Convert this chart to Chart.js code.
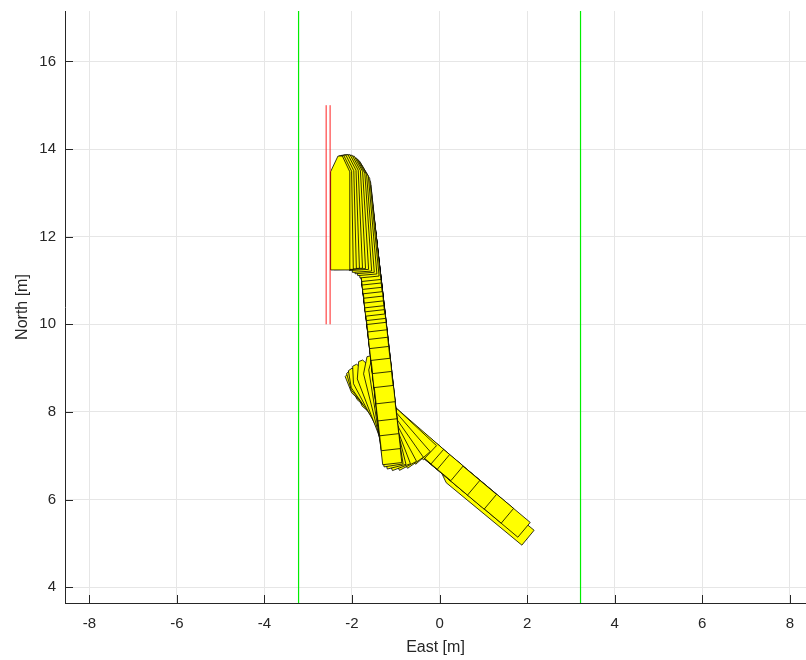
<!DOCTYPE html>
<html>
<head>
<meta charset="utf-8">
<script src="https://cdn.jsdelivr.net/npm/chart.js@4.4.1/dist/chart.umd.min.js"></script>
<style>
    html, body { margin: 0; padding: 0; background: #fff; }
</style>
</head>
<body>
<canvas id="pathChart" width="806" height="660"></canvas>
<script>
// axis ticks
const xTicks = [-8, -6, -4, -2, 0, 2, 4, 6, 8];
const yTicks = [4, 6, 8, 10, 12, 14, 16];

// lane borders (green) and parking slot marks (red)
const laneX = [-3.22, 3.22];
const slotX = [-2.59, -2.50];
const slotY = [10, 15];

// vehicle poses: rear centre east / north [m], heading [deg]
const poseEast = [
    2.02, 1.93,
    1.55, 1.16, 0.78, 0.40, 0.09, -0.05, -0.22,
    -0.38, -0.55, -0.72, -0.87, -0.98, -1.05,
    -1.08, -1.11, -1.15, -1.19, -1.23, -1.28, -1.31, -1.35, -1.38, -1.40, -1.42,
    -1.44, -1.45, -1.47, -1.48, -1.49, -1.50, -1.51, -1.53, -1.54, -1.55, -1.56,
    -1.60, -1.65, -1.71, -1.77, -1.84, -1.91, -1.98, -2.05, -2.12, -2.19, -2.27
];
const poseNorth = [
    5.13, 5.31,
    5.63, 5.95, 6.27, 6.60, 6.86, 6.98, 7.07,
    6.95, 6.84, 6.77, 6.74, 6.75, 6.78,
    6.82, 7.14, 7.48, 7.82, 8.21, 8.58, 8.90, 9.20, 9.47, 9.68, 9.85,
    10.02, 10.11, 10.21, 10.31, 10.40, 10.51, 10.62, 10.72, 10.82, 10.92, 11.00,
    11.08, 11.13, 11.17, 11.20, 11.24, 11.26, 11.27, 11.27, 11.26, 11.25, 11.24
];
const poseHeading = [
    140.5, 140,
    140, 140, 140, 140, 140, 139, 137,
    131, 125, 118, 111, 104, 99,
    96.5, 96.5, 96.5, 96.5, 96.5, 96.5, 96.5, 96.5, 96.5, 96.5, 96.5,
    96.5, 96.5, 96.5, 96.5, 96.5, 96.5, 96.5, 96.3, 96.2, 96.1, 96,
    95.5, 95, 94.5, 94, 93.5, 93, 92.5, 92, 91.5, 91, 90
];

// vehicle outline in body frame: u forward from rear, v to the left [m]
const LEN = 2.6;
const HALF_W = 0.22;
const NOSE = 0.36;
const outlineU = [0, LEN - NOSE, LEN, LEN, LEN - NOSE, 0, 0];
const outlineV = [-HALF_W, -HALF_W, -0.05, 0.05, HALF_W, HALF_W, -HALF_W];

const X_MIN = -8.555, X_MAX = 8.37;
const Y_MIN = 3.64, Y_MAX = 17.15;

const ink = '#262626';
const fontFamily = "'Liberation Sans', Arial, sans-serif";

function vehicleOutline(east, north, headingDeg) {
    const a = headingDeg * Math.PI / 180;
    const c = Math.cos(a);
    const s = Math.sin(a);
    return outlineU.map((u, k) => {
        const v = outlineV[k];
        return { x: east + u * c - v * s, y: north + u * s + v * c };
    });
}

const datasets = [];

laneX.forEach(x => {
    datasets.push({
        data: [{ x: x, y: Y_MIN }, { x: x, y: Y_MAX }],
        borderColor: '#00ee00',
        borderWidth: 1.2,
        pointRadius: 0,
        fill: false,
        order: 0
    });
});

slotX.forEach(x => {
    datasets.push({
        data: [{ x: x, y: slotY[0] }, { x: x, y: slotY[1] }],
        borderColor: '#ff2020',
        borderWidth: 1,
        pointRadius: 0,
        fill: false,
        order: 0
    });
});

// later poses are drawn on top of earlier ones
poseEast.forEach((e, i) => {
    datasets.push({
        data: vehicleOutline(e, poseNorth[i], poseHeading[i]),
        borderColor: '#000000',
        borderWidth: 0.8,
        backgroundColor: '#ffff00',
        fill: 'shape',
        pointRadius: 0,
        tension: 0,
        order: poseEast.length - i
    });
});

// MATLAB style ticks pointing into the plot
const innerTicks = {
    id: 'innerTicks',
    afterDraw(chart) {
        const { ctx, chartArea, scales } = chart;
        ctx.save();
        ctx.strokeStyle = ink;
        ctx.lineWidth = 1;
        ctx.beginPath();
        scales.x.ticks.forEach(t => {
            const px = Math.round(scales.x.getPixelForValue(t.value)) + 0.5;
            ctx.moveTo(px, chartArea.bottom);
            ctx.lineTo(px, chartArea.bottom - 8);
        });
        scales.y.ticks.forEach(t => {
            const py = Math.round(scales.y.getPixelForValue(t.value)) + 0.5;
            ctx.moveTo(chartArea.left, py);
            ctx.lineTo(chartArea.left + 8, py);
        });
        ctx.stroke();
        ctx.restore();
    }
};

new Chart(document.getElementById('pathChart'), {
    type: 'line',
    data: { datasets: datasets },
    options: {
        responsive: false,
        animation: false,
        layout: { padding: { top: 11, right: 0, left: 0, bottom: 0 } },
        plugins: {
            legend: { display: false },
            tooltip: { enabled: false }
        },
        scales: {
            x: {
                type: 'linear',
                min: X_MIN,
                max: X_MAX,
                afterBuildTicks: axis => { axis.ticks = xTicks.map(v => ({ value: v })); },
                afterFit: axis => {
                    axis.height = 57;
                    axis.paddingLeft = 0;
                    axis.paddingRight = 0;
                },
                grid: { color: '#e6e6e6', drawTicks: false },
                border: { display: true, color: ink, width: 1 },
                ticks: {
                    color: ink,
                    padding: 12,
                    maxRotation: 0,
                    font: { family: fontFamily, size: 15 }
                },
                title: {
                    display: true,
                    text: 'East [m]',
                    color: ink,
                    font: { family: fontFamily, size: 16 },
                    padding: { top: 0, bottom: 3 }
                }
            },
            y: {
                type: 'linear',
                min: Y_MIN,
                max: Y_MAX,
                afterBuildTicks: axis => { axis.ticks = yTicks.map(v => ({ value: v })); },
                afterFit: axis => {
                    axis.width = 65;
                    axis.paddingTop = 0;
                    axis.paddingBottom = 0;
                },
                grid: { color: '#e6e6e6', drawTicks: false },
                border: { display: true, color: ink, width: 1 },
                ticks: {
                    color: ink,
                    padding: 9,
                    font: { family: fontFamily, size: 15 }
                },
                title: {
                    display: true,
                    text: 'North [m]',
                    color: ink,
                    font: { family: fontFamily, size: 16 },
                    padding: { top: 13, bottom: 0 }
                }
            }
        }
    },
    plugins: [innerTicks]
});
</script>
</body>
</html>
